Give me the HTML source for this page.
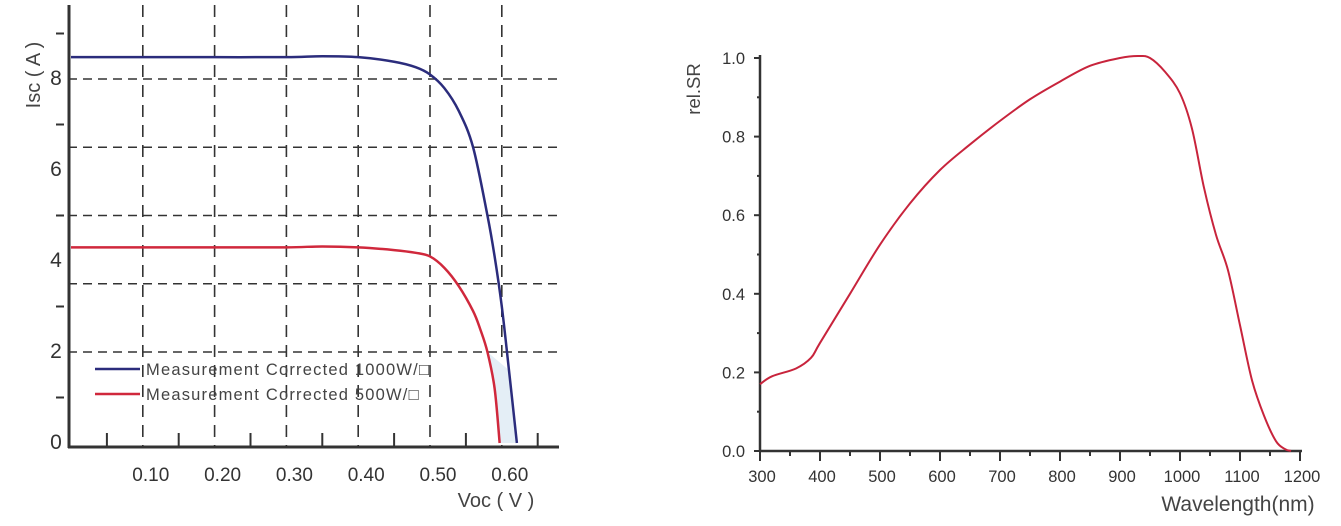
<!DOCTYPE html>
<html><head><meta charset="utf-8"><style>
html,body{margin:0;padding:0;background:#fff;}
svg{display:block;font-family:"Liberation Sans","DejaVu Sans",sans-serif;}
</style></head><body>
<svg id="c" width="1341" height="526" viewBox="0 0 1341 526">
<g id="left"></g>
<g id="right"></g>
</svg>
<script>
// ---------- IV chart data ----------
const ivXTicks = [0.10,0.20,0.30,0.40,0.50,0.60];
const ivYLabels = [0,2,4,6,8];
const ivYGrid = [2,3.5,5,6.5,8];
const ivYMinor = [1,3,5,7,9];
const blueV = [0,0.10,0.20,0.30,0.35,0.40,0.45,0.48,0.50,0.52,0.54,0.56,0.58,0.59,0.60,0.61,0.621];
const blueI = [8.48,8.48,8.48,8.48,8.5,8.48,8.38,8.26,8.1,7.8,7.3,6.5,5.0,4.1,3.0,1.6,0];
const redV = [0,0.10,0.20,0.30,0.35,0.40,0.45,0.48,0.50,0.52,0.54,0.56,0.57,0.58,0.59,0.597];
const redI = [4.3,4.3,4.3,4.3,4.32,4.3,4.24,4.18,4.1,3.85,3.45,2.9,2.5,2.0,1.2,0];
// ---------- SR chart data ----------
const srXTicks = [300,400,500,600,700,800,900,1000,1100,1200];
const srYTicks = [0.0,0.2,0.4,0.6,0.8,1.0];
const srNm = [300,320,360,385,400,450,500,550,600,650,700,750,800,850,900,930,950,975,1000,1020,1040,1060,1080,1100,1120,1140,1160,1175,1185];
const srVal = [0.17,0.19,0.21,0.237,0.275,0.40,0.525,0.63,0.715,0.78,0.84,0.895,0.94,0.98,1.0,1.005,1.0,0.965,0.91,0.82,0.67,0.55,0.46,0.32,0.18,0.09,0.025,0.005,0];

const NS='http://www.w3.org/2000/svg';
function mk(p,t,a){const e=document.createElementNS(NS,t);for(const k in a)e.setAttribute(k,a[k]);p.appendChild(e);return e;}
function smooth(pts){let d='M'+pts[0][0]+','+pts[0][1];
for(let i=0;i<pts.length-1;i++){const p0=pts[Math.max(0,i-1)],p1=pts[i],p2=pts[i+1],p3=pts[Math.min(pts.length-1,i+2)];
const c1=[p1[0]+(p2[0]-p0[0])/6,p1[1]+(p2[1]-p0[1])/6],c2=[p2[0]-(p3[0]-p1[0])/6,p2[1]-(p3[1]-p1[1])/6];
d+=' C'+c1[0]+','+c1[1]+' '+c2[0]+','+c2[1]+' '+p2[0]+','+p2[1];}return d;}

// IV axes
const L=document.getElementById('left');
const lx=v=>71+v*718, ly=i=>443-i*45.5;
ivYGrid.forEach(g=>{const e=mk(L,'line',{x1:68,x2:560,y1:ly(g),y2:ly(g),stroke:'#333','stroke-width':1.6,'stroke-dasharray':'9 6'});

});
ivXTicks.forEach(t=>{const e=mk(L,'line',{x1:lx(t),x2:lx(t),y1:5,y2:447,stroke:'#333','stroke-width':1.6,'stroke-dasharray':'12 8'});


const tx=mk(L,'text',{x:lx(t)+8,y:481,'font-size':19,fill:'#333','text-anchor':'middle'});tx.textContent=t.toFixed(2);


const m=mk(L,'line',{x1:lx(t-0.05),x2:lx(t-0.05),y1:433,y2:446,stroke:'#333','stroke-width':2});

});
const m6=mk(L,'line',{x1:lx(0.65),x2:lx(0.65),y1:433,y2:446,stroke:'#333','stroke-width':2});


ivYMinor.forEach(t=>{const e=mk(L,'line',{x1:56,x2:64,y1:ly(t),y2:ly(t),stroke:'#333','stroke-width':2});

});
ivYLabels.forEach(t=>{const e=mk(L,'text',{x:56,y:ly(t)+6,'font-size':21,fill:'#333','text-anchor':'middle'});e.textContent=t;

});
const ya=mk(L,'line',{x1:69,x2:69,y1:5,y2:448,stroke:'#333','stroke-width':3});


const xa=mk(L,'line',{x1:68,x2:559,y1:447,y2:447,stroke:'#333','stroke-width':3});


let fp='M'+lx(redV[redV.length-1])+','+ly(0)+' L'+lx(blueV[blueV.length-1])+','+ly(0);
for(let k=blueV.length-1;k>=0;k--){if(blueI[k]>2.2)break;fp+=' L'+lx(blueV[k])+','+ly(blueI[k]);}
for(let k=0;k<redV.length;k++){if(redI[k]<=2.2)fp+=' L'+lx(redV[k])+','+ly(redI[k]);}
const fl=mk(L,'path',{d:fp+'Z',fill:'#e4eef6',stroke:'none'});


function curve(V,I,col,name){const d=smooth(V.map((v,k)=>[lx(v),ly(I[k])]));
const e=mk(L,'path',{d:d,fill:'none',stroke:col,'stroke-width':2.5,'stroke-linejoin':'round'});

}
curve(blueV,blueI,'#2b2c7c','series-1000w');
curve(redV,redI,'#d0283c','series-500w');
const lg1=mk(L,'line',{x1:95,x2:140,y1:369,y2:369,stroke:'#2b2c7c','stroke-width':2.5});


const lt1=mk(L,'text',{x:146,y:375,'font-size':16.5,fill:'#444','letter-spacing':'1.2'});lt1.textContent='Measurement Corrected 1000W/□';


const lg2=mk(L,'line',{x1:95,x2:140,y1:394,y2:394,stroke:'#d0283c','stroke-width':2.5});


const lt2=mk(L,'text',{x:146,y:400,'font-size':16.5,fill:'#444','letter-spacing':'1.2'});lt2.textContent='Measurement Corrected 500W/□';


const yt=mk(L,'text',{x:0,y:0,'font-size':20,fill:'#444','text-anchor':'middle',transform:'translate(40,75) rotate(-90)'});yt.textContent='Isc ( A )';


const xt=mk(L,'text',{x:496,y:507,'font-size':20,fill:'#444','text-anchor':'middle'});xt.textContent='Voc ( V )';



// SR chart
const R=document.getElementById('right');
const rx=n=>760+(n-300)*0.6, ry=v=>451-v*393;
for(let n=350;n<1200;n+=100){const e=mk(R,'line',{x1:rx(n),x2:rx(n),y1:451,y2:456,stroke:'#333','stroke-width':2});

}
srXTicks.forEach(t=>{const e=mk(R,'line',{x1:rx(t),x2:rx(t),y1:451,y2:461,stroke:'#333','stroke-width':2});


const tx=mk(R,'text',{x:rx(t)+2,y:482,'font-size':16.5,fill:'#333','text-anchor':'middle'});tx.textContent=t;

});
srYTicks.forEach(t=>{const e=mk(R,'line',{x1:754,x2:761,y1:ry(t),y2:ry(t),stroke:'#333','stroke-width':2});


const tx=mk(R,'text',{x:745,y:ry(t)+6,'font-size':16.5,fill:'#333','text-anchor':'end'});tx.textContent=t.toFixed(1);


if(t<1){const m=mk(R,'line',{x1:757,x2:760,y1:ry(t+0.1),y2:ry(t+0.1),stroke:'#333','stroke-width':2});

}});
const rya=mk(R,'line',{x1:760,x2:760,y1:55,y2:452,stroke:'#333','stroke-width':2.5});


const rxa=mk(R,'line',{x1:759,x2:1302,y1:451,y2:451,stroke:'#333','stroke-width':2.5});


const sd=smooth(srNm.map((n,k)=>[rx(n),ry(srVal[k])]));
const sc=mk(R,'path',{d:sd,fill:'none',stroke:'#c8243c','stroke-width':2,'stroke-linejoin':'round'});


const ryt=mk(R,'text',{x:0,y:0,'font-size':18.5,fill:'#444','text-anchor':'middle',transform:'translate(700,89) rotate(-90)'});ryt.textContent='rel.SR';


const rxt=mk(R,'text',{x:1238,y:511,'font-size':21,fill:'#444','text-anchor':'middle'});rxt.textContent='Wavelength(nm)';


</script>
</body></html>
